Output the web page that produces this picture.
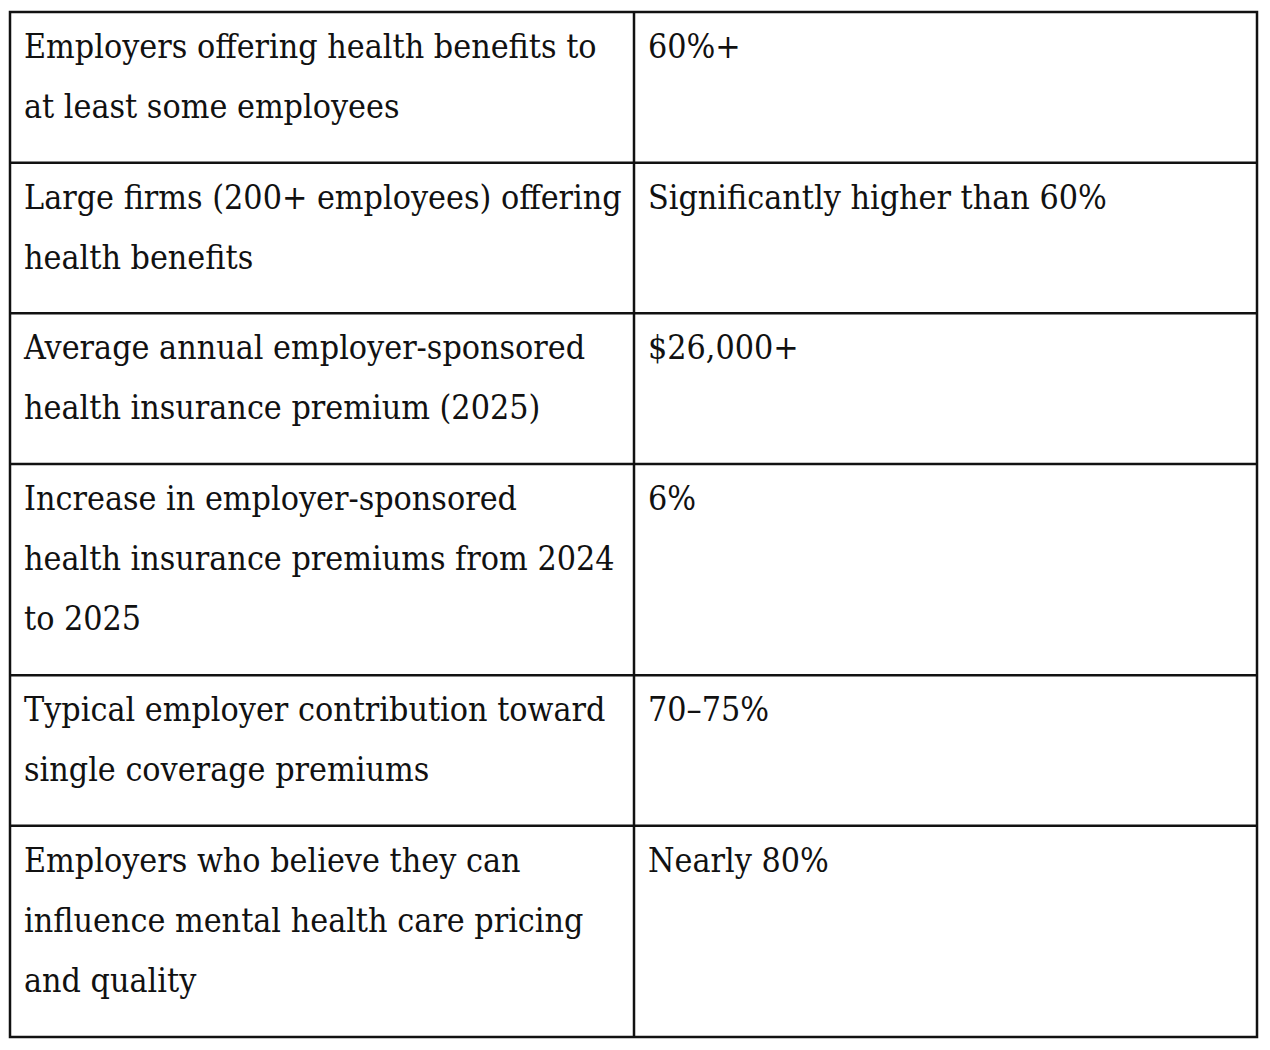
<!DOCTYPE html>
<html>
<head>
<meta charset="utf-8">
<script src="https://cdn.jsdelivr.net/npm/d3@7"></script>
<style>
  html, body { margin: 0; padding: 0; background: #fff; }
  svg { display: block; }
</style>
</head>
<body>
<div class="graphic"></div>
<script>
// one line break per "\n", as in the source table
var metrics = [
    "Employers offering health benefits to\nat least some employees",
    "Large firms (200+ employees) offering\nhealth benefits",
    "Average annual employer-sponsored\nhealth insurance premium (2025)",
    "Increase in employer-sponsored\nhealth insurance premiums from 2024\nto 2025",
    "Typical employer contribution toward\nsingle coverage premiums",
    "Employers who believe they can\ninfluence mental health care pricing\nand quality",
];
var values = [
    "60%+",
    "Significantly higher than 60%",
    "$26,000+",
    "6%",
    "70\u201375%",
    "Nearly 80%",
];

var render = function () {
    var width = 1270,
        height = 1050;
    var table = { left: 10, top: 12, right: 1257, bottom: 1037, split: 634 };
    var padLeft = 14,
        firstBase = 46,
        lineGap = 60;
    var ink = "#111";

    var svg = d3
        .select(".graphic")
        .append("svg")
        .attr("width", width)
        .attr("height", height);

    svg.append("rect")
        .attr("width", width)
        .attr("height", height)
        .attr("fill", "#fff");

    var rows = metrics.map(function (m, i) {
        return { metric: m.split("\n"), value: values[i] };
    });

    // row heights follow line counts
    var totalLines = d3.sum(rows, (d) => d.metric.length);
    var perLine = 60.5;
    var rowPad = (table.bottom - table.top - totalLines * perLine) / rows.length;
    var y = table.top;
    rows.forEach(function (d) {
        d.y0 = y;
        y += d.metric.length * perLine + rowPad;
        d.y1 = y;
    });

    var fontFamily = "'DejaVu Serif Condensed', 'DejaVu Serif', 'Liberation Serif', serif";

    // fit font so the first line matches the reference width
    var probe = svg.append("text")
        .attr("font-family", fontFamily)
        .attr("font-size", 30)
        .text(rows[0].metric[0]);
    var w0 = probe.node().getComputedTextLength();
    var fs = 30 * 573 / w0;
    var widest = 0;
    rows.forEach(function (d) {
        d.metric.forEach(function (l) {
            probe.text(l);
            widest = Math.max(widest, probe.node().getComputedTextLength() * fs / 30);
        });
    });
    if (widest > 598) fs = fs * 598 / widest;
    probe.remove();

    var g = svg.append("g")
        .attr("font-family", fontFamily)
        .attr("font-size", fs)
        .attr("fill", ink);

    var row = g.selectAll("g.row")
        .data(rows)
        .join("g")
        .attr("class", "row");

    row.append("text")
        .attr("x", table.left + padLeft)
        .attr("y", (d) => d.y0 + firstBase)
        .selectAll("tspan")
        .data((d) => d.metric.map((l, i) => ({ l: l, i: i, y0: d.y0 })))
        .join("tspan")
        .attr("x", table.left + padLeft)
        .attr("y", (t) => t.y0 + firstBase + t.i * lineGap)
        .text((t) => t.l);

    row.append("text")
        .attr("x", table.split + padLeft)
        .attr("y", (d) => d.y0 + firstBase)
        .text((d) => d.value);

    // grid lines
    var grid = svg.append("g")
        .attr("stroke", ink)
        .attr("stroke-width", 2.5)
        .attr("fill", "none");

    grid.selectAll("line.h")
        .data(rows.slice(0, -1))
        .join("line")
        .attr("class", "h")
        .attr("x1", table.left)
        .attr("x2", table.right)
        .attr("y1", (d) => d.y1)
        .attr("y2", (d) => d.y1);

    grid.append("line")
        .attr("x1", table.split)
        .attr("x2", table.split)
        .attr("y1", table.top)
        .attr("y2", table.bottom);

    grid.append("rect")
        .attr("x", table.left)
        .attr("y", table.top)
        .attr("width", table.right - table.left)
        .attr("height", table.bottom - table.top);
};

render();
</script>
</body>
</html>
